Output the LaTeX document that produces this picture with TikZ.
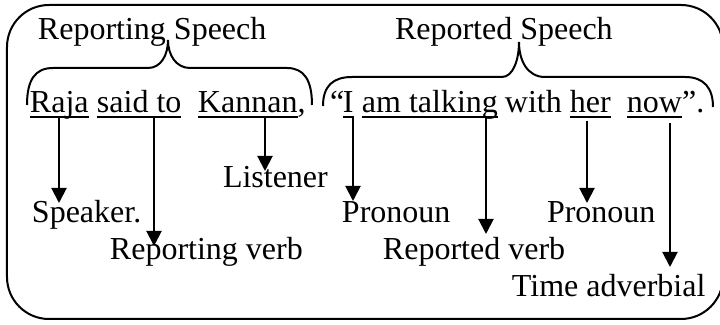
\documentclass[tikz,border=0pt]{standalone}
\usepackage{fontspec}
\setmainfont{Liberation Serif}
\usetikzlibrary{arrows.meta}
\begin{document}
\begin{tikzpicture}[x=0.5pt,y=-0.5pt,
  txt/.style={inner sep=0pt,outer sep=0pt,anchor=base west,font=\fontsize{16}{19}\selectfont},
  ln/.style={line width=1pt},
  arr/.style={line width=1pt,-{Triangle[length=7.5pt,width=7.5pt]}},
  ul/.style={line width=1pt}]
\useasboundingbox (0,0) rectangle (720,325);
% outer box
\draw[line width=1pt,rounded corners=21pt] (7,5) rectangle (723,319);
% headings
\node[txt] (h1) at (38,40) {Reporting Speech};
\node[txt] (h2) at (395,40) {Reported Speech};
% braces
\draw[ln] (27,105) .. controls (27,80) and (35,68) .. (53,68) -- (148,68)
  .. controls (161,68) and (168,55) .. (168,40)
  .. controls (168,55) and (176,68) .. (190,68) -- (287,68)
  .. controls (304,68) and (312,80) .. (312,105);
\draw[ln] (323,106) .. controls (323,86) and (333,77) .. (352,77) -- (502,77)
  .. controls (513,77) and (519,60) .. (519,42)
  .. controls (519,60) and (527,77) .. (545,77) -- (685,77)
  .. controls (704,77) and (713,88) .. (713,107);
% sentence
\node[txt] (raja) at (30,113) {Raja};
\node[txt] (said) at (97,113) {said to};
\node[txt] (kannan) at (198,113) {Kannan};
\node[txt,anchor=base west] (comma) at (kannan.base east) {,};
\node[txt] (quote) at (330,113) {“};
\node[txt] (I) at (343,113) {I};
\node[txt] (talking) at (362,113) {am talking};
\node[txt] (with) at (505,113) {with};
\node[txt] (her) at (570,113) {her};
\node[txt] (now) at (627,113) {now};
\node[txt,anchor=base west] (endq) at (now.base east) {”.};
% underlines
\foreach \w in {raja,said,kannan,I,talking,her,now}{
  \draw[ul] ([yshift=-2pt]\w.base west) -- ([yshift=-2pt]\w.base east);
}
% labels
\node[txt] (spk) at (32,223) {Speaker.};
\node[txt] (lis) at (223,188) {Listener};
\node[txt] (rv) at (110,260) {Reporting verb};
\node[txt] (p1) at (342,223) {Pronoun};
\node[txt] (p2) at (547,223) {Pronoun};
\node[txt] (rdv) at (383,260) {Reported verb};
\node[txt] (ta) at (512,297) {Time adverbial};
% arrow coordinates
\coordinate (s1) at (59,117);  \coordinate (e1) at (59,203);
\coordinate (s2) at (154,117); \coordinate (e2) at (154,246);
\coordinate (s3) at (265,117); \coordinate (e3) at (265,171);
\coordinate (s4) at (353,117); \coordinate (e4) at (353,201);
\coordinate (s5) at (486,117); \coordinate (e5) at (486,234);
\coordinate (s6) at (587,121); \coordinate (e6) at (587,203);
\coordinate (s7) at (670,123); \coordinate (e7) at (670,267);
\foreach \i in {1,...,7}{\draw[arr] (s\i) -- (e\i);}
\end{tikzpicture}
\end{document}
